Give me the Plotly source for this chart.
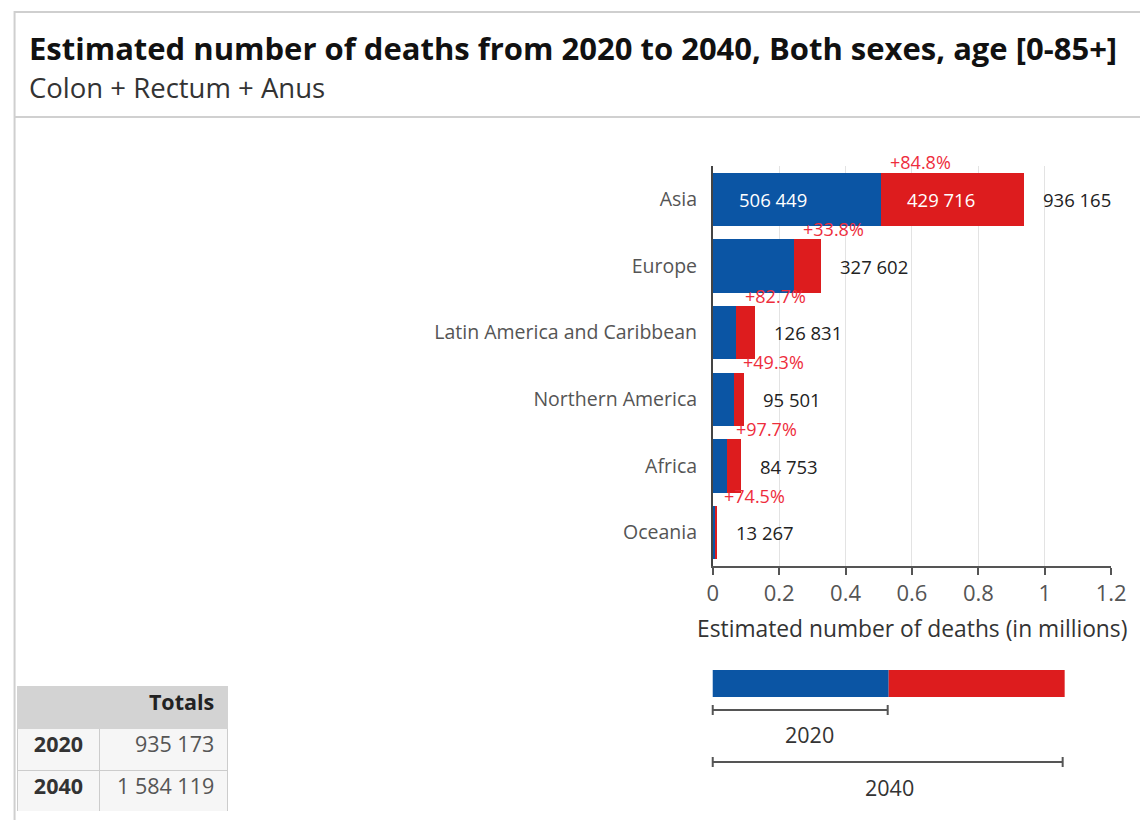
import plotly.graph_objects as go

# ---- data ----
regions = ["Asia", "Europe", "Latin America and Caribbean", "Northern America", "Africa", "Oceania"]
deaths_2020 = [506449, 244845, 69420, 63966, 42869, 7603]
deaths_2040 = [936165, 327602, 126831, 95501, 84753, 13267]
pct_change = ["+84.8%", "+33.8%", "+82.7%", "+49.3%", "+97.7%", "+74.5%"]
total_labels = ["936 165", "327 602", "126 831", "95 501", "84 753", "13 267"]
inside_2020 = ["506 449", "", "", "", "", ""]
inside_incr = ["429 716", "", "", "", "", ""]
x_ticks = [0, 0.2, 0.4, 0.6, 0.8, 1, 1.2]
x_tick_text = ["0", "0.2", "0.4", "0.6", "0.8", "1", "1.2"]
table_years = ["2020", "2040"]
table_totals = ["935 173", "1 584 119"]

BLUE = "#0B55A4"
RED = "#DD1C1E"
PCT_RED = "#EE2D3C"
FONT = "Open Sans"

# page layout helpers (body margin 8px; measured horizontal mapping of the capture)
OFF = 8
SX, OX = 0.982, 6.3
W, H = 1156, 812


def px(x):
    page = (x - OX) / SX
    return min(1.0, max(0.0, (page - OFF) / W))


def py(y):
    return min(1.0, max(0.0, 1 - (y - OFF) / H))


incr = [b - a for a, b in zip(deaths_2020, deaths_2040)]
x2020 = [v / 1e6 for v in deaths_2020]
xincr = [v / 1e6 for v in incr]
x2040 = [v / 1e6 for v in deaths_2040]

fig = go.Figure()
fig.add_trace(go.Bar(y=regions, x=x2020, orientation="h", marker=dict(color=BLUE, line=dict(width=0)),
                     width=0.8, name="2020", showlegend=False))
fig.add_trace(go.Bar(y=regions, x=xincr, orientation="h", marker=dict(color=RED, line=dict(width=0)),
                     width=0.8, name="increase", showlegend=False))

annotations = []
for r, a, t, p, tl, i1, i2 in zip(regions, x2020, x2040, pct_change, total_labels, inside_2020, inside_incr):
    annotations.append(dict(x=a, y=r, xref="x", yref="y", text=p, showarrow=False, xanchor="left",
                            yanchor="middle", xshift=7, yshift=37,
                            font=dict(family=FONT, size=18, color=PCT_RED)))
    annotations.append(dict(x=t, y=r, xref="x", yref="y", text=tl, showarrow=False, xanchor="left",
                            yanchor="middle", xshift=17,
                            font=dict(family=FONT, size=18.5, color="#222")))
    if i1:
        annotations.append(dict(x=0, y=r, xref="x", yref="y", text=i1, showarrow=False, xanchor="left",
                                yanchor="middle", xshift=24,
                                font=dict(family=FONT, size=18.5, color="white")))
    if i2:
        annotations.append(dict(x=a, y=r, xref="x", yref="y", text=i2, showarrow=False, xanchor="left",
                                yanchor="middle", xshift=24,
                                font=dict(family=FONT, size=18.5, color="white")))

# title and subtitle
annotations.append(dict(x=px(27), y=py(47.5), xref="paper", yref="paper",
                        text="<b>Estimated number of deaths from 2020 to 2040, Both sexes, age [0-85+]</b>",
                        showarrow=False, xanchor="left", yanchor="middle",
                        font=dict(family=FONT, size=31, color="#111")))
annotations.append(dict(x=px(27), y=py(87.5), xref="paper", yref="paper", text="Colon + Rectum + Anus",
                        showarrow=False, xanchor="left", yanchor="middle",
                        font=dict(family=FONT, size=27.5, color="#333")))
# x-axis title
annotations.append(dict(x=px(912), y=py(628), xref="paper", yref="paper",
                        text="Estimated number of deaths (in millions)", showarrow=False,
                        xanchor="center", yanchor="middle", font=dict(family=FONT, size=22.8, color="#333")))
# legend key labels
annotations.append(dict(x=px(810), y=py(734), xref="paper", yref="paper", text="2020", showarrow=False,
                        xanchor="center", yanchor="middle", font=dict(family=FONT, size=21.5, color="#333")))
annotations.append(dict(x=px(890), y=py(787), xref="paper", yref="paper", text="2040", showarrow=False,
                        xanchor="center", yanchor="middle", font=dict(family=FONT, size=21.5, color="#333")))

shapes = []
# card border and separator
shapes.append(dict(type="rect", xref="paper", yref="paper", x0=0.0005, x1=1.02, y0=-0.05, y1=py(12),
                   line=dict(color="#cfcfcf", width=2), layer="below"))
shapes.append(dict(type="line", xref="paper", yref="paper", x0=0.0005, x1=1.0, y0=py(117), y1=py(117),
                   line=dict(color="#d0d0d0", width=2)))
# legend key bar
shapes.append(dict(type="rect", xref="paper", yref="paper", x0=px(713), x1=px(889), y0=py(697), y1=py(670),
                   fillcolor=BLUE, line=dict(width=0)))
shapes.append(dict(type="rect", xref="paper", yref="paper", x0=px(889), x1=px(1065), y0=py(697), y1=py(670),
                   fillcolor=RED, line=dict(width=0)))
for x0, x1, yy in [(713, 888, 710), (713, 1063, 762)]:
    shapes.append(dict(type="line", xref="paper", yref="paper", x0=px(x0), x1=px(x1), y0=py(yy), y1=py(yy),
                       line=dict(color="#555", width=2)))
    for xx in (x0, x1):
        shapes.append(dict(type="line", xref="paper", yref="paper", x0=px(xx), x1=px(xx), y0=py(yy - 5), y1=py(yy + 5),
                           line=dict(color="#555", width=2)))

# totals table
PAD = "\u00a0"
fig.add_trace(go.Table(
    domain=dict(x=[px(18), px(229)], y=[py(812), py(686)]),
    columnwidth=[82, 130],
    header=dict(values=["", "Totals" + PAD], fill_color="#d3d3d3", line=dict(color="#d3d3d3", width=1),
                align=["right", "right"], height=42,
                font=dict(family=FONT, size=21.5, color="#222", weight="bold")),
    cells=dict(values=[table_years, [v + PAD for v in table_totals]],
               fill_color="#f6f6f6", line=dict(color="#cccccc", width=1),
               align=["center", "right"], height=42,
               font=dict(family=FONT, size=21.5, color=["#333", "#555"], weight=["bold", "normal"])),
))

fig.update_layout(
    width=W, height=H,
    margin=dict(l=0, r=0, t=0, b=0),
    paper_bgcolor="white", plot_bgcolor="white",
    barmode="stack", bargap=0.2,
    showlegend=False,
    annotations=annotations,
    shapes=shapes,
    font=dict(family=FONT),
    xaxis=dict(domain=[px(713), px(1111.5)], range=[0, 1.2], tickvals=x_ticks, ticktext=x_tick_text,
               showgrid=True, gridcolor="#e3e3e3", gridwidth=1, zeroline=False,
               showline=True, linecolor="#555", linewidth=1.5, ticks="outside", ticklen=7, tickcolor="#555",
               tickwidth=1.5,
               tickfont=dict(family=FONT, size=22, color="#555")),
    yaxis=dict(domain=[py(566), py(166)], categoryorder="array", categoryarray=regions[::-1],
               range=[-0.5, len(regions) - 0.5], autorange=False,
               showgrid=False, zeroline=False, showline=True, linecolor="#444", linewidth=1.5,
               ticks="", ticklabelstandoff=10,
               tickfont=dict(family=FONT, size=19.5, color="#555")),
)

fig.write_html("out.html")
